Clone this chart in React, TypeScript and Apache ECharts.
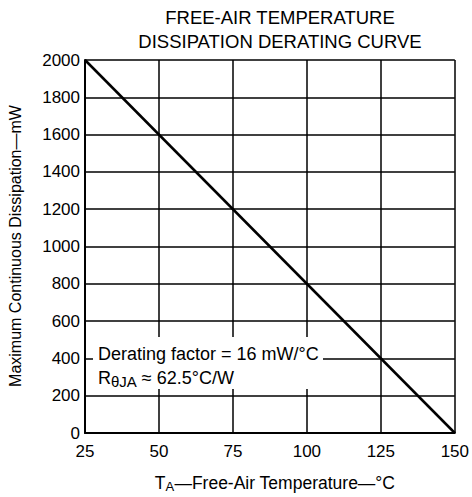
import React, { useEffect, useRef } from "react";
import * as echarts from "echarts";

const temperatures = [25, 150];
const dissipation = [2000, 0];
const xTicks = { min: 25, max: 150, interval: 25 };
const yTicks = { min: 0, max: 2000, interval: 200 };
const titleLines = ["FREE-AIR TEMPERATURE", "DISSIPATION DERATING CURVE"];
const yAxisName = "Maximum Continuous Dissipation\u2014mW";
const note1 = "Derating factor = 16 mW/\u00B0C";

const FONT = "'Liberation Sans', Arial, Helvetica, sans-serif";

export default function App() {
  const ref = useRef<HTMLDivElement>(null);
  useEffect(() => {
    document.body.style.margin = "0";
    if (!ref.current) return;
    const chart = echarts.init(ref.current, null, { renderer: "svg" });
    const data = temperatures.map((t, i) => [t, dissipation[i]]);
    chart.setOption({
      animation: false,
      backgroundColor: "#fff",
      grid: { left: 85, right: 14, top: 60, bottom: 64, containLabel: false },
      xAxis: {
        type: "value",
        min: xTicks.min,
        max: xTicks.max,
        interval: xTicks.interval,
        axisLine: { show: true, onZero: false, lineStyle: { color: "#000", width: 2 } },
        axisTick: { show: false },
        splitLine: { show: true, lineStyle: { color: "#000", width: 1.5 } },
        axisLabel: {
          color: "#000",
          fontFamily: FONT,
          fontSize: 17,
          margin: 10,
          formatter: (v: number) => String(v),
        },
      },
      yAxis: {
        type: "value",
        min: yTicks.min,
        max: yTicks.max,
        interval: yTicks.interval,
        axisLine: { show: true, lineStyle: { color: "#000", width: 2 } },
        axisTick: { show: false },
        splitLine: { show: true, lineStyle: { color: "#000", width: 1.5 } },
        axisLabel: {
          color: "#000",
          fontFamily: FONT,
          fontSize: 17,
          margin: 5,
          formatter: (v: number) => String(v),
        },
      },
      series: [
        {
          type: "line",
          data,
          symbol: "none",
          lineStyle: { color: "#000", width: 2.5 },
          z: 3,
        },
      ],
      graphic: [
        {
          type: "text",
          x: 280,
          y: 17,
          style: {
            text: titleLines[0],
            fill: "#000",
            font: `18.5px ${FONT}`,
            textAlign: "center",
            textVerticalAlign: "middle",
          },
        },
        {
          type: "text",
          x: 280,
          y: 41,
          style: {
            text: titleLines[1],
            fill: "#000",
            font: `18.5px ${FONT}`,
            textAlign: "center",
            textVerticalAlign: "middle",
          },
        },
        {
          type: "text",
          x: 15,
          y: 246,
          rotation: Math.PI / 2,
          style: {
            text: yAxisName,
            fill: "#000",
            font: `16px ${FONT}`,
            textAlign: "center",
            textVerticalAlign: "middle",
          },
        },
        {
          type: "text",
          x: 275,
          y: 483,
          style: {
            text: "T{s|A}\u2014Free-Air Temperature\u2014\u00B0C",
            fill: "#000",
            font: `17.5px ${FONT}`,
            textAlign: "center",
            textVerticalAlign: "middle",
            rich: {
              s: { fontSize: 13, fontFamily: FONT, fill: "#000", padding: [6, 0, 0, 0] },
            },
          },
        },
        {
          type: "rect",
          shape: { x: 93, y: 337, width: 230, height: 52 },
          style: { fill: "#fff" },
          z: 10,
        },
        {
          type: "text",
          x: 98,
          y: 354,
          z: 11,
          style: {
            text: note1,
            fill: "#000",
            font: `18px ${FONT}`,
            textAlign: "left",
            textVerticalAlign: "middle",
          },
        },
        {
          type: "text",
          x: 98,
          y: 378,
          z: 11,
          style: {
            text: "R{s|\u03B8JA} \u2248 62.5\u00B0C/W",
            fill: "#000",
            font: `18px ${FONT}`,
            textAlign: "left",
            textVerticalAlign: "middle",
            rich: {
              s: { fontSize: 15, fontFamily: FONT, fill: "#000", padding: [7, 0, 0, 0] },
            },
          },
        },
      ],
    });
    return () => chart.dispose();
  }, []);
  return <div ref={ref} style={{ width: 472, height: 497 }} />;
}
